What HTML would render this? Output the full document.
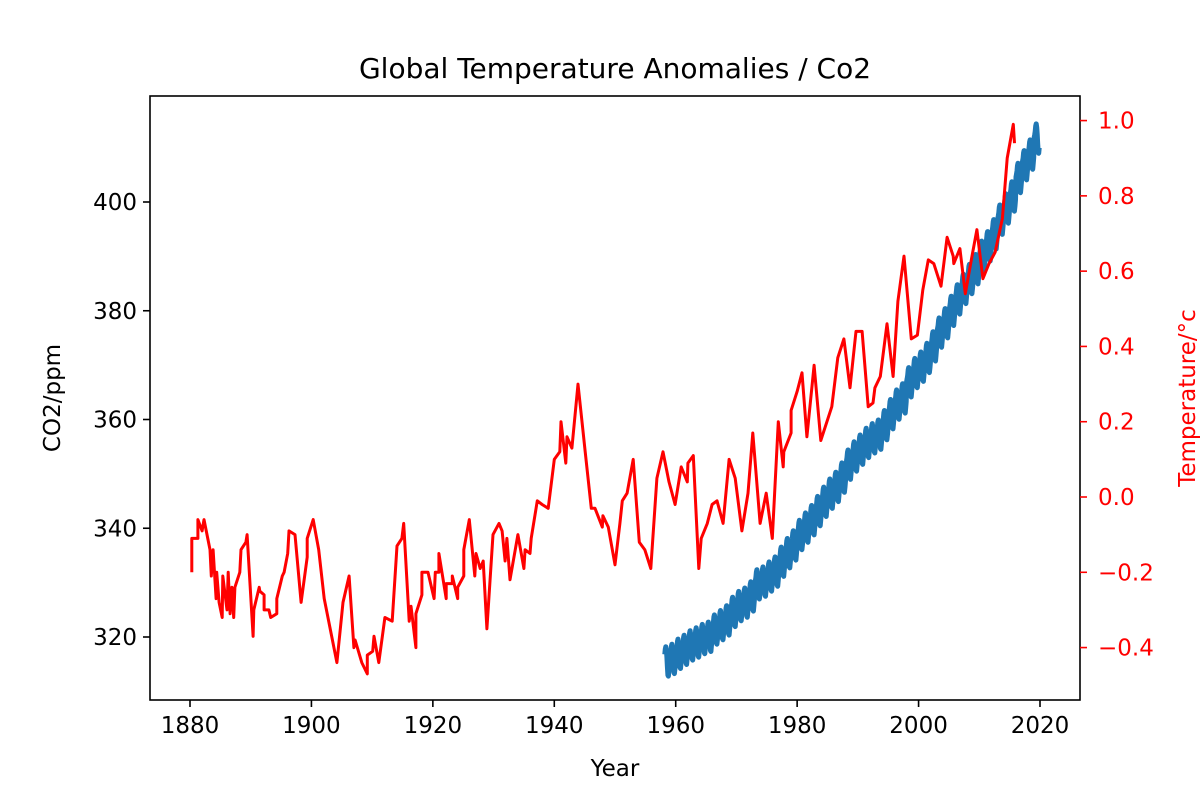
<!DOCTYPE html>
<html><head><meta charset="utf-8">
<style>
html,body{margin:0;padding:0;background:#fff;}
svg{display:block;font-family:"DejaVu Sans","Liberation Sans",sans-serif;}
</style></head>
<body>
<svg id="chart" width="1200" height="800" viewBox="0 0 1200 800" xmlns="http://www.w3.org/2000/svg">
<rect x="0" y="0" width="1200" height="800" fill="#fff"/>
<text x="615" y="78" font-size="28" text-anchor="middle" fill="#000">Global Temperature Anomalies / Co2</text>
<g id="plot"></g>
<rect x="150" y="96" width="930" height="604" fill="none" stroke="#000" stroke-width="1.6"/>
<g id="axes"></g>
<text x="615" y="776" font-size="23" text-anchor="middle">Year</text>
<text x="0" y="0" font-size="23" text-anchor="middle" transform="translate(60,398) rotate(-90)">CO2/ppm</text>
<text x="0" y="0" font-size="23" text-anchor="middle" fill="#ff0000" transform="translate(1195,398) rotate(-90)">Temperature/°c</text>
</svg>
<script>
// ---- data ----
const co2Years = [1958,1959,1960,1961,1962,1963,1964,1965,1966,1967,1968,1969,1970,1971,1972,1973,1974,1975,1976,1977,1978,1979,1980,1981,1982,1983,1984,1985,1986,1987,1988,1989,1990,1991,1992,1993,1994,1995,1996,1997,1998,1999,2000,2001,2002,2003,2004,2005,2006,2007,2008,2009,2010,2011,2012,2013,2014,2015,2016,2017,2018,2019];
const co2Annual = [315.5,315.97,316.91,317.64,318.45,318.99,319.62,320.04,321.37,322.18,323.05,324.62,325.68,326.32,327.46,329.68,330.19,331.12,332.03,333.84,335.41,336.84,338.76,340.12,341.48,343.15,344.87,346.35,347.61,349.31,351.69,353.20,354.45,355.70,356.54,357.21,358.96,360.97,362.74,363.88,366.84,368.54,369.71,371.32,373.45,375.98,377.70,379.98,382.09,384.02,385.83,387.64,390.10,391.85,394.06,396.74,398.81,401.01,404.41,406.76,408.72,411.66];
const co2Seasonal = [0.2,0.7,1.3,2.3,2.7,2.1,0.8,-1.0,-2.5,-2.7,-1.7,-0.6];
const tempYears = [1880.3,1880.3,1881.3,1881.3,1882.0,1882.3,1883.3,1883.5,1883.8,1884.3,1884.4,1884.8,1885.3,1885.4,1886.1,1886.3,1886.6,1886.9,1887.2,1887.4,1888.2,1888.4,1889.2,1889.4,1890.4,1890.5,1891.4,1891.5,1892.2,1892.2,1893.0,1893.3,1894.3,1894.3,1895.2,1895.5,1896.1,1896.3,1897.3,1898.3,1899.3,1899.3,1900.3,1901.2,1902.1,1904.2,1905.2,1906.2,1907.0,1907.2,1908.3,1909.2,1909.2,1910.1,1910.3,1911.1,1912.1,1913.3,1914.1,1914.9,1915.2,1916.1,1916.4,1917.2,1917.2,1918.2,1918.2,1919.2,1920.2,1920.4,1921.0,1921.0,1922.2,1922.2,1923.2,1923.2,1924.1,1924.1,1925.1,1925.1,1926.0,1926.9,1927.1,1927.8,1928.3,1928.9,1929.9,1930.9,1931.4,1931.9,1932.2,1932.7,1934.0,1935.0,1935.2,1936.0,1936.2,1937.2,1938.0,1939.0,1940.0,1940.9,1941.1,1941.9,1942.1,1942.9,1943.9,1944.7,1945.1,1946.1,1946.7,1947.9,1948.0,1948.9,1950.0,1950.8,1951.2,1952.0,1953.0,1954.0,1954.9,1955.9,1956.9,1957.9,1958.9,1959.9,1960.9,1961.9,1962.0,1962.9,1963.8,1964.2,1965.2,1966.0,1966.8,1967.8,1968.8,1969.8,1970.9,1971.9,1972.7,1973.9,1974.9,1975.9,1976.9,1977.7,1977.8,1979.0,1979.0,1980.0,1980.8,1981.6,1982.8,1983.9,1985.7,1986.7,1987.7,1988.7,1989.7,1990.7,1991.7,1992.5,1992.8,1993.7,1994.8,1995.8,1996.6,1997.6,1998.8,1999.8,2000.7,2001.6,2002.5,2003.7,2004.7,2005.7,2005.8,2006.8,2007.7,2008.8,2009.6,2010.6,2011.6,2012.6,2013.8,2014.6,2015.6,2015.8];
const tempValues = [-0.20,-0.11,-0.11,-0.06,-0.09,-0.06,-0.14,-0.21,-0.14,-0.27,-0.20,-0.28,-0.32,-0.21,-0.30,-0.20,-0.31,-0.24,-0.32,-0.24,-0.20,-0.14,-0.12,-0.10,-0.37,-0.30,-0.24,-0.25,-0.26,-0.30,-0.30,-0.32,-0.31,-0.27,-0.21,-0.20,-0.15,-0.09,-0.10,-0.28,-0.16,-0.11,-0.06,-0.14,-0.27,-0.44,-0.28,-0.21,-0.40,-0.38,-0.44,-0.47,-0.42,-0.41,-0.37,-0.44,-0.32,-0.33,-0.13,-0.11,-0.07,-0.33,-0.29,-0.40,-0.31,-0.26,-0.20,-0.20,-0.27,-0.20,-0.20,-0.15,-0.27,-0.23,-0.23,-0.21,-0.27,-0.24,-0.21,-0.14,-0.06,-0.21,-0.15,-0.19,-0.17,-0.35,-0.10,-0.07,-0.09,-0.17,-0.11,-0.22,-0.10,-0.19,-0.14,-0.15,-0.11,-0.01,-0.02,-0.03,0.10,0.12,0.20,0.09,0.16,0.13,0.30,0.18,0.12,-0.03,-0.03,-0.08,-0.05,-0.08,-0.18,-0.07,-0.01,0.01,0.10,-0.12,-0.14,-0.19,0.05,0.12,0.04,-0.02,0.08,0.04,0.09,0.11,-0.19,-0.11,-0.07,-0.02,-0.01,-0.07,0.10,0.05,-0.09,0.01,0.17,-0.07,0.01,-0.11,0.20,0.08,0.12,0.17,0.23,0.28,0.33,0.16,0.35,0.15,0.24,0.37,0.42,0.29,0.44,0.44,0.24,0.25,0.29,0.32,0.46,0.32,0.52,0.64,0.42,0.43,0.55,0.63,0.62,0.56,0.69,0.64,0.62,0.66,0.54,0.64,0.71,0.58,0.62,0.65,0.74,0.90,0.99,0.94];
const xTicks = [1880,1900,1920,1940,1960,1980,2000,2020];
const co2Ticks = [320,340,360,380,400];
const tempTicks = [-0.4,-0.2,0.0,0.2,0.4,0.6,0.8,1.0];

// ---- scales ----
const xS = yr => 190 + (yr - 1880) * (850 / 140);
const yL = v => 637 - (v - 320) * (435 / 80);
const yR = v => 497 - v * (527 / 1.4);
const NS = "http://www.w3.org/2000/svg";
const plot = document.getElementById('plot');
const axes = document.getElementById('axes');

// CO2 line
let pts = [];
co2Years.forEach((y, i) => {
  for (let m = 0; m < 12; m++) {
    if (y === 1958 && m < 2) continue;
    if (y === 2019 && m > 10) continue;
    const t = y + (m + 0.5) / 12;
    pts.push(xS(t).toFixed(1) + ',' + yL(co2Annual[i] + co2Seasonal[m]).toFixed(1));
  }
});
const co2Line = document.createElementNS(NS, 'polyline');


co2Line.setAttribute('points', pts.join(' '));
co2Line.setAttribute('fill', 'none');
co2Line.setAttribute('stroke', '#1f77b4');
co2Line.setAttribute('stroke-width', '5');
co2Line.setAttribute('stroke-linejoin', 'round');
plot.appendChild(co2Line);

// Temperature line
const tp = tempYears.map((y, i) => xS(y).toFixed(1) + ',' + yR(tempValues[i]).toFixed(1));
const tLine = document.createElementNS(NS, 'polyline');


tLine.setAttribute('points', tp.join(' '));
tLine.setAttribute('fill', 'none');
tLine.setAttribute('stroke', '#ff0000');
tLine.setAttribute('stroke-width', '3');
tLine.setAttribute('stroke-linejoin', 'round');
plot.appendChild(tLine);

function mk(tag, attrs, txt) {
  const e = document.createElementNS(NS, tag);
  for (const k in attrs) e.setAttribute(k, attrs[k]);
  if (txt !== undefined) e.textContent = txt;
  axes.appendChild(e);
  return e;
}
xTicks.forEach(v => {
  const x = xS(v);
  const t = mk('line', {x1: x, x2: x, y1: 700, y2: 707, stroke: '#000', 'stroke-width': 1.6});
  
  
  const l = mk('text', {x: x, y: 733, 'font-size': 23, 'text-anchor': 'middle'}, String(v));
  
  
});
co2Ticks.forEach(v => {
  const y = yL(v);
  const t = mk('line', {x1: 143, x2: 150, y1: y, y2: y, stroke: '#000', 'stroke-width': 1.6});
  
  
  const l = mk('text', {x: 137, y: y + 8, 'font-size': 23, 'text-anchor': 'end'}, String(v));
  
  
});
tempTicks.forEach(v => {
  const y = yR(v);
  const t = mk('line', {x1: 1080, x2: 1087, y1: y, y2: y, stroke: '#ff0000', 'stroke-width': 1.6});
  
  
  const s = (v < 0 ? '\u2212' : '') + Math.abs(v).toFixed(1);
  const l = mk('text', {x: 1098, y: y + 8, 'font-size': 23, 'text-anchor': 'start', fill: '#ff0000'}, s);
  
  
});
</script>
</body></html>
